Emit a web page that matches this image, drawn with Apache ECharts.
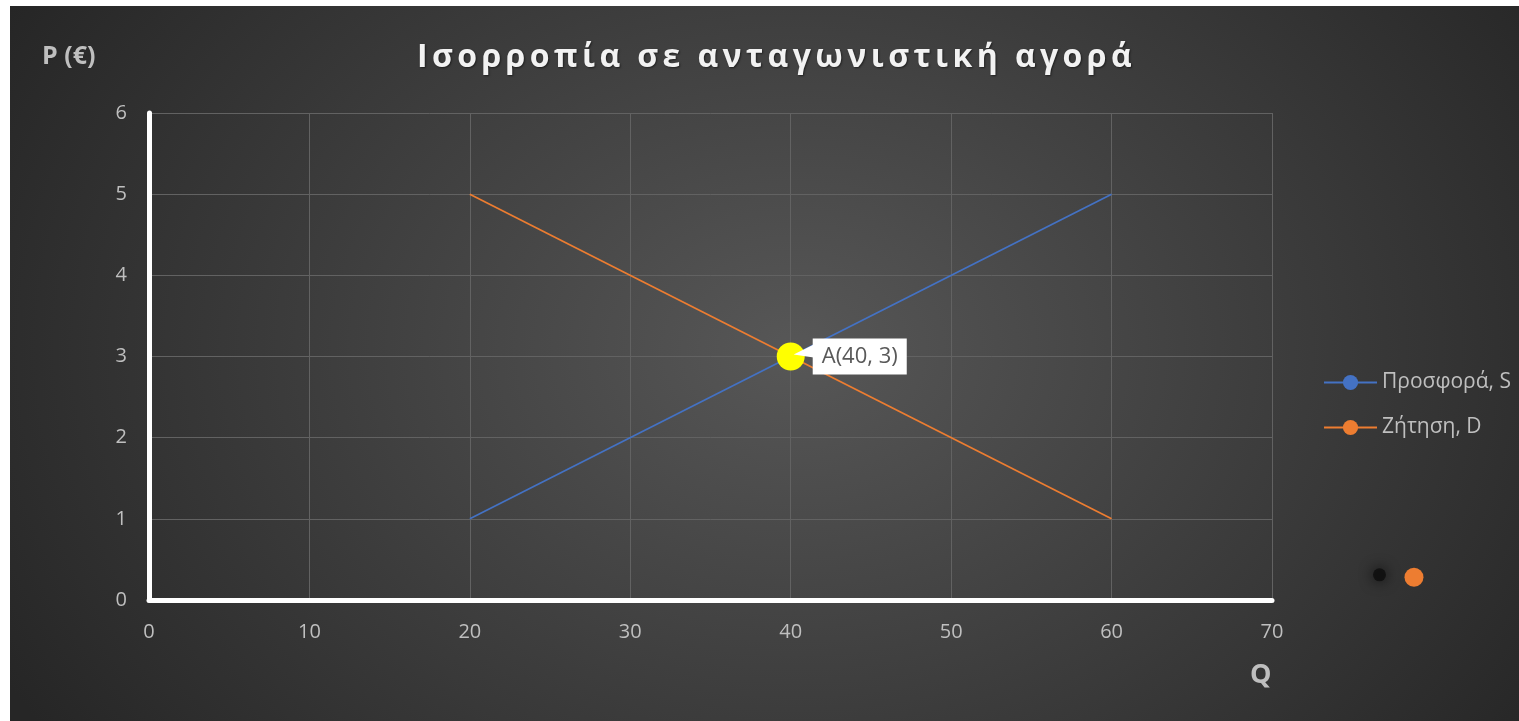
<!DOCTYPE html>
<html>
<head>
<meta charset="utf-8">
<script src="https://cdn.jsdelivr.net/npm/echarts@6/dist/echarts.min.js"></script>
<style>
  html, body { margin: 0; padding: 0; background: #ffffff; }
  #wrap {
    position: absolute; left: 10px; top: 6px; width: 1509px; height: 715px;
    background: radial-gradient(ellipse 60% 95% at 52% 48%, #575757 0%, #3c3c3c 55%, #262626 100%);
    overflow: hidden;
  }
  #chart { position: absolute; left: 0; top: 0; width: 1509px; height: 715px; }
  #title {
    position: absolute; left: 12px; top: 27px; width: 1509px;
    text-align: center; line-height: normal;
    font-family: "Open Sans", "Noto Sans", sans-serif; font-weight: 700; font-size: 32px;
    letter-spacing: 4.4px; color: #f2f2f2;
    text-shadow: 1px 1px 2px rgba(0, 0, 0, 0.5);
    pointer-events: none; z-index: 2;
  }
</style>
</head>
<body>
<div id="wrap">
  <div id="chart"></div>
  <div id="title"></div>
</div>
<script>
// Market data: quantity (Q) and price (P, €)
const quantity = [20, 60];
const supplyPrice = [1, 5];
const demandPrice = [5, 1];
const equilibrium = [40, 3];
const equilibriumLabel = 'A(40, 3)';
const extraPoints = [[76.7, 0.31], [78.85, 0.28]];
const xTicks = [0, 10, 20, 30, 40, 50, 60, 70];
const yTicks = [0, 1, 2, 3, 4, 5, 6];

const titleText = 'Ισορροπία σε ανταγωνιστική αγορά';
const supplyName = 'Προσφορά, S';
const demandName = 'Ζήτηση, D';
const yAxisName = 'P (€)';
const xAxisName = 'Q';

document.getElementById('title').textContent = titleText;

const font = '"Open Sans", "Noto Sans", sans-serif';
const labelGrey = '#bfbfbf';

const chart = echarts.init(document.getElementById('chart'), null, { renderer: 'canvas' });

chart.setOption({
  backgroundColor: 'transparent',
  textStyle: { fontFamily: font },
  legend: {
    data: [supplyName, demandName],
    orient: 'vertical',
    left: 1308, top: 361,
    itemWidth: 53, itemHeight: 19, itemGap: 24,
    textStyle: { color: labelGrey, fontSize: 21, fontFamily: font, padding: [0, 0, 0, 0] }
  },
  grid: { left: 139, top: 107, width: 1123, height: 487 },
  xAxis: {
    type: 'value', min: xTicks[0], max: xTicks[xTicks.length - 1], interval: 10,
    axisLine: { show: true, onZero: false, lineStyle: { color: '#ffffff', width: 5 } },
    axisTick: { show: false },
    axisLabel: { color: labelGrey, fontSize: 20, margin: 22, fontFamily: font },
    splitLine: { show: true, lineStyle: { color: '#626262', width: 1 } }
  },
  yAxis: {
    type: 'value', min: yTicks[0], max: yTicks[yTicks.length - 1], interval: 1,
    axisLine: { show: true, onZero: false, lineStyle: { color: '#ffffff', width: 5 } },
    axisTick: { show: false },
    axisLabel: { color: labelGrey, fontSize: 20, margin: 22, fontFamily: font },
    splitLine: { show: true, lineStyle: { color: '#626262', width: 1 } }
  },
  series: [
    {
      name: supplyName, type: 'line',
      data: quantity.map((q, i) => [q, supplyPrice[i]]),
      symbol: 'circle', symbolSize: 15, showSymbol: false,
      lineStyle: { color: '#4472c4', width: 1.75 },
      itemStyle: { color: '#4472c4' },
      emphasis: { disabled: true }, z: 3
    },
    {
      name: demandName, type: 'line',
      data: quantity.map((q, i) => [q, demandPrice[i]]),
      symbol: 'circle', symbolSize: 15, showSymbol: false,
      lineStyle: { color: '#ed7d31', width: 1.75 },
      itemStyle: { color: '#ed7d31' },
      emphasis: { disabled: true }, z: 3
    },
    {
      name: 'A', type: 'scatter',
      data: [equilibrium],
      symbol: 'circle', symbolSize: 28,
      itemStyle: { color: '#ffff00', opacity: 1 },
      label: {
        show: true, position: 'right', distance: 8,
        formatter: equilibriumLabel,
        color: '#595959', fontSize: 22, fontFamily: font,
        backgroundColor: '#ffffff', padding: [7, 9, 7, 9]
      },
      emphasis: { disabled: true }, z: 5
    },
    {
      name: 'extra', type: 'scatter', clip: false,
      data: [
        { value: extraPoints[0], symbolSize: 13,
          itemStyle: { color: '#0d0d0d', shadowColor: '#000000', shadowBlur: 14, opacity: 0.8 } },
        { value: extraPoints[1], symbolSize: 19,
          itemStyle: { color: '#ed7d31', opacity: 1 } }
      ],
      emphasis: { disabled: true }, silent: true
    }
  ]
});

// Axis names and the callout pointer of the equilibrium label
const p = chart.convertToPixel({ seriesIndex: 2 }, equilibrium);
chart.setOption({
  graphic: [
    { type: 'text', left: 32, top: 38,
      style: { text: yAxisName, fill: labelGrey, font: 'bold 25px ' + font } },
    { type: 'text', left: 1240, top: 656,
      style: { text: xAxisName, fill: labelGrey, font: 'bold 27px ' + font } },
    { type: 'polygon', z: 10,
      shape: { points: [[p[0] + 3, p[1] - 2], [p[0] + 23, p[1] - 12], [p[0] + 23, p[1] + 1]] },
      style: { fill: '#ffffff' } }
  ]
});
</script>
</body>
</html>
